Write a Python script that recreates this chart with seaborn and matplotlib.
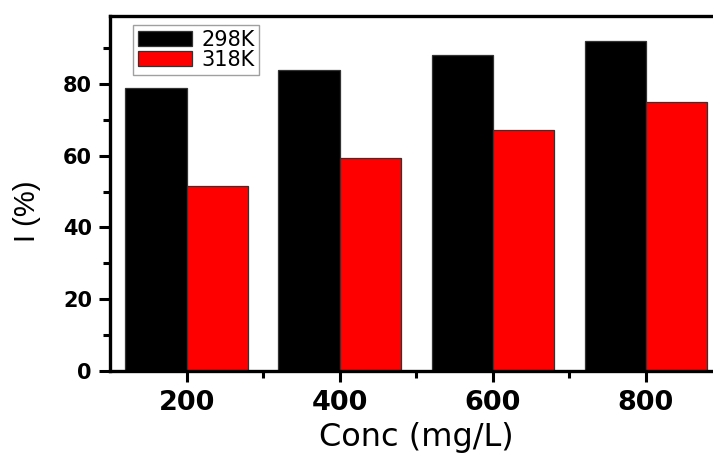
import matplotlib
matplotlib.use("Agg")
import matplotlib.pyplot as plt
import seaborn as sns
import pandas as pd
from matplotlib.ticker import MultipleLocator

conc = ["200", "400", "600", "800"]
temps = ["298K", "318K"]
i_298 = [79, 84, 88, 92]
i_318 = [51.5, 59.3, 67.1, 75]
colors = ["#000000", "#ff0000"]

df = pd.DataFrame({
    "Conc": conc * 2,
    "T": [temps[0]] * len(conc) + [temps[1]] * len(conc),
    "I": i_298 + i_318,
})

sns.set_style("ticks")
plt.rcParams["font.family"] = ["DejaVu Sans"]
plt.rcParams["text.color"] = "black"
plt.rcParams["axes.labelcolor"] = "black"
plt.rcParams["xtick.color"] = "black"
plt.rcParams["ytick.color"] = "black"
plt.rcParams["axes.edgecolor"] = "black"

fig = plt.figure(figsize=(7.13, 4.53), dpi=100)
ax = fig.add_axes([0.1543, 0.1817, 0.8590, 0.7836])
sns.barplot(data=df, x="Conc", y="I", hue="T", palette=colors, width=0.8,
            edgecolor="#333333", linewidth=0.9, ax=ax, saturation=1)

ax.set_xlim(-0.5, 3.5)
ax.set_ylim(0, 99.1)
ax.yaxis.set_major_locator(MultipleLocator(20))
ax.yaxis.set_minor_locator(MultipleLocator(10))
ax.set_xticks([0.5, 1.5, 2.5], minor=True)

for s in ax.spines.values():
    s.set_linewidth(2.4)
    s.set_color("black")
ax.tick_params(axis="both", which="major", direction="out", length=8, width=2.2)
ax.tick_params(axis="both", which="minor", direction="out", length=5, width=2.2)
ax.tick_params(axis="x", labelsize=19.5, pad=6)
ax.tick_params(axis="y", labelsize=15, pad=5)
for lab in ax.get_xticklabels() + ax.get_yticklabels():
    lab.set_fontweight("bold")

ax.set_xlabel("Conc (mg/L)", fontsize=23, labelpad=4)
ax.set_ylabel("I (%)", fontsize=21, family=["Liberation Sans", "DejaVu Sans"])
ax.yaxis.set_label_coords(-0.113, 0.45)

leg = ax.legend(loc="upper left", bbox_to_anchor=(0.0376, 0.974), frameon=True,
                fancybox=False, edgecolor="#888888", fontsize=15,
                handlelength=2.6, handleheight=0.7, borderpad=0.22,
                labelspacing=0.02, handletextpad=0.45, borderaxespad=0.0)
leg.get_frame().set_linewidth(1.0)

fig.savefig("out.png", dpi=100, facecolor="white")
